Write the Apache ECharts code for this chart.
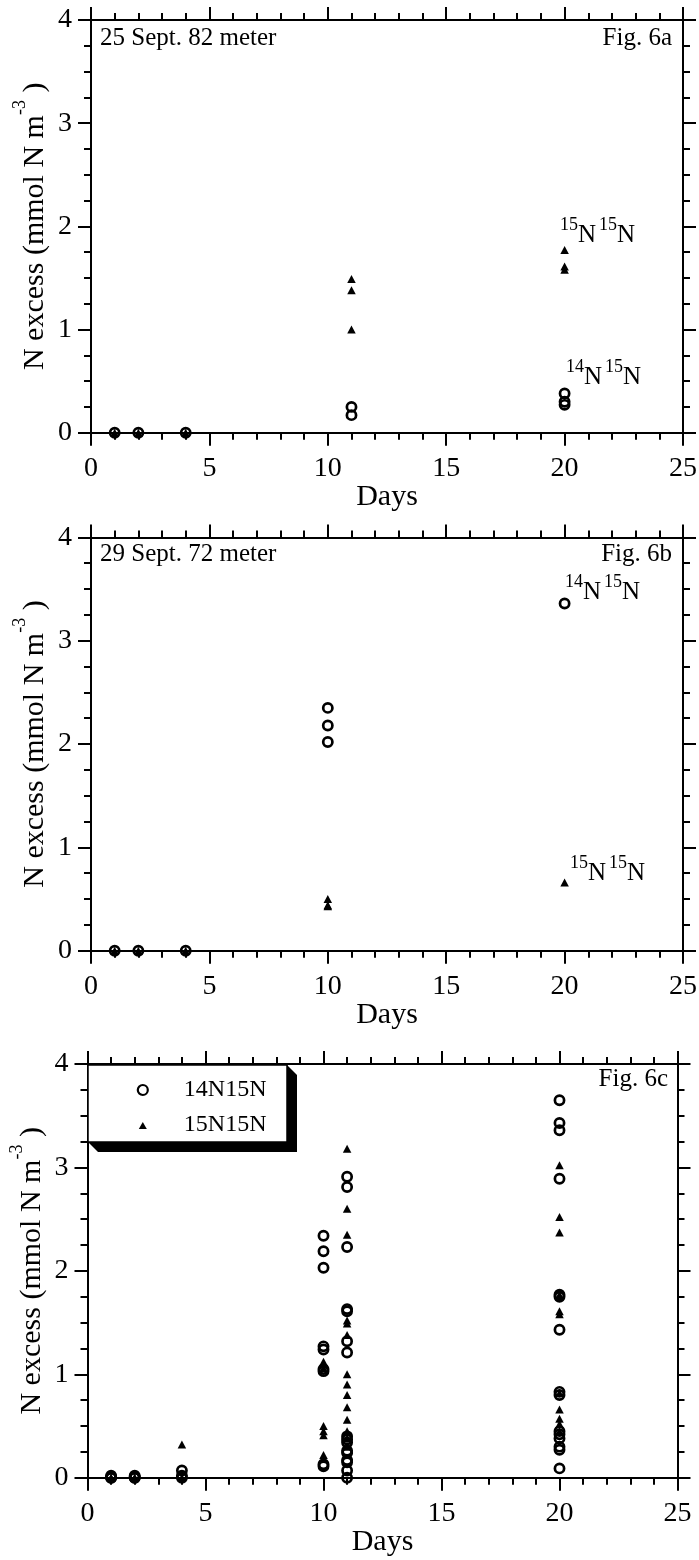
<!DOCTYPE html>
<html><head><meta charset="utf-8">
<script src="https://cdn.jsdelivr.net/npm/echarts@6/dist/echarts.min.js"></script>
<style>html,body{margin:0;padding:0;background:#fff}#c{width:699px;height:1560px}</style>
</head><body><div id="c"></div>
<script>
// ---- Data ----
// Panel a: 25 Sept. 82 meter
const aDays14 = [1, 2, 4, 11, 11, 20, 20, 20];
const aVal14  = [0, 0, 0, 0.25, 0.17, 0.38, 0.30, 0.27];
const aDays15 = [1, 2, 4, 11, 11, 11, 20, 20, 20];
const aVal15  = [0, 0, 0, 1.49, 1.38, 1.00, 1.77, 1.61, 1.58];
// Panel b: 29 Sept. 72 meter
const bDays14 = [1, 2, 4, 10, 10, 10, 20];
const bVal14  = [0, 0, 0, 2.35, 2.18, 2.02, 3.36];
const bDays15 = [1, 2, 4, 10, 10, 10, 20];
const bVal15  = [0, 0, 0, 0.50, 0.44, 0.43, 0.66];
// Panel c: all experiments
const cDays14 = [1, 1, 1, 1, 2, 2, 2, 2, 4, 4, 4,
  10, 10, 10, 10, 10, 10, 10, 10, 10,
  11, 11, 11, 11, 11, 11, 11, 11, 11, 11, 11, 11, 11, 11, 11, 11,
  20, 20, 20, 20, 20, 20, 20, 20, 20, 20, 20, 20, 20, 20, 20];
const cVal14  = [0, 0.01, 0, 0.02, 0, 0.01, 0, 0.02, 0.07, 0.02, 0,
  2.34, 2.19, 2.03, 1.27, 1.24, 1.05, 1.03, 0.13, 0.11,
  2.91, 2.81, 2.23, 1.63, 1.61, 1.32, 1.21, 0.40, 0.37, 0.34, 0.26, 0.24, 0.17, 0.15, 0.07, 0.0,
  3.65, 3.43, 3.36, 2.89, 1.77, 1.75, 1.43, 0.83, 0.80, 0.45, 0.42, 0.38, 0.30, 0.27, 0.09];
const cDays15 = [1, 1, 2, 2, 4, 4,
  10, 10, 10, 10, 10, 10, 10,
  11, 11, 11, 11, 11, 11, 11, 11, 11, 11, 11, 11, 11, 11,
  20, 20, 20, 20, 20, 20, 20, 20, 20, 20, 20];
const cVal15  = [0, 0, 0, 0, 0.32, 0,
  1.12, 1.06, 0.50, 0.45, 0.41, 0.22, 0.18,
  3.18, 2.60, 2.35, 1.52, 1.49, 1.38, 1.00, 0.90, 0.80, 0.68, 0.56, 0.45, 0.38, 0.30,
  3.02, 2.52, 2.37, 1.77, 1.61, 1.58, 0.82, 0.66, 0.57, 0.52, 0.45];
const seriesNames = ['14N15N', '15N15N'];
const xTicks = [0, 5, 10, 15, 20, 25];
const yTicks = [0, 1, 2, 3, 4];

// ---- Styling ----
const FONT = '"Liberation Serif", "Times New Roman", serif';
const pair = (d, v) => d.map((x, i) => [x, v[i]]);
const grids = [
  {left: 91, top: 20, width: 592, height: 412.7},
  {left: 91, top: 537.4, width: 592, height: 413.3},
  {left: 87.5, top: 1064, width: 590, height: 413.7}
];
const black = '#000';
const lineSt = {color: black, width: 2};
function xAx(gi, pos) {
  const bottom = pos === 'bottom';
  return {
    gridIndex: gi, type: 'value', position: pos,
    min: xTicks[0], max: xTicks[xTicks.length - 1], interval: xTicks[1] - xTicks[0],
    axisLine: {show: true, onZero: false, lineStyle: lineSt},
    axisTick: {show: true, inside: false, length: 13, lineStyle: lineSt},
    minorTick: {show: true, splitNumber: 5, length: 7, lineStyle: lineSt},
    splitLine: {show: false}, minorSplitLine: {show: false},
    axisLabel: {show: bottom, margin: 22, fontSize: 28, color: black, fontFamily: FONT},
    name: bottom ? 'Days' : '', nameLocation: 'middle', nameGap: 49, nameMoveOverlap: false,
    nameTextStyle: {fontSize: 30, color: black, fontFamily: FONT}
  };
}
function yAx(gi, pos) {
  const left = pos === 'left';
  return {
    gridIndex: gi, type: 'value', position: pos,
    min: yTicks[0], max: yTicks[yTicks.length - 1], interval: yTicks[1] - yTicks[0],
    axisLine: {show: true, onZero: false, lineStyle: lineSt},
    axisTick: {show: true, inside: false, length: 13, lineStyle: lineSt},
    minorTick: {show: true, splitNumber: 4, length: 7, lineStyle: lineSt},
    splitLine: {show: false}, minorSplitLine: {show: false},
    axisLabel: {show: left, margin: 19, fontSize: 28, color: black, fontFamily: FONT},
    name: left ? '{n|N excess (mmol N m}{s|-3}{n| )}' : '',
    nameLocation: 'middle', nameRotate: 90, nameGap: 40.6, nameMoveOverlap: false,
    nameTextStyle: {
      color: black, fontFamily: FONT, fontSize: 30,
      rich: {
        n: {fontSize: 30, lineHeight: 38.7, verticalAlign: 'bottom', fontFamily: FONT, color: black},
        s: {fontSize: 18, lineHeight: 18, verticalAlign: 'top', fontFamily: FONT, color: black}
      }
    }
  };
}
const xAxis = [], yAxis = [];
grids.forEach((g, i) => {
  xAxis.push(xAx(i, 'bottom')); xAxis.push(xAx(i, 'top'));
  yAxis.push(yAx(i, 'left')); yAxis.push(yAx(i, 'right'));
});
const circleStyle = {color: 'rgba(0,0,0,0)', borderColor: black, borderWidth: 2.7, opacity: 1};
const triStyle = {color: black, borderWidth: 0, opacity: 1};
function sc(name, gi, data, isCircle) {
  return {
    type: 'scatter', name, xAxisIndex: gi * 2, yAxisIndex: gi * 2, data,
    symbol: isCircle ? 'circle' : 'triangle',
    symbolSize: isCircle ? 9.2 : [8.5, 8],
    itemStyle: isCircle ? circleStyle : triStyle,
    clip: false, silent: true, emphasis: {disabled: true}, z: isCircle ? 3 : 4
  };
}
const series = [
  sc(seriesNames[0], 0, pair(aDays14, aVal14), true),
  sc(seriesNames[1], 0, pair(aDays15, aVal15), false),
  sc(seriesNames[0], 1, pair(bDays14, bVal14), true),
  sc(seriesNames[1], 1, pair(bDays15, bVal15), false),
  sc(seriesNames[0], 2, pair(cDays14, cVal14), true),
  sc(seriesNames[1], 2, pair(cDays15, cVal15), false)
];
function txt(x, y, text, align, size) {
  return {type: 'text', x, y, silent: true, z: 10,
    style: {text, fill: black, font: size + 'px ' + FONT, align, verticalAlign: 'middle',
      textAlign: align, textVerticalAlign: 'middle'}};
}
function isoLabel(x, top, a, b) {
  return {type: 'text', x, y: top, silent: true, z: 10,
    style: {
      text: '{s|' + a + '}{n|N}{t|' + b + '}{n|N}',
      align: 'left', verticalAlign: 'top', textAlign: 'left', textVerticalAlign: 'top',
      fill: black, font: '25px ' + FONT,
      rich: {
        s: {fontSize: 18, lineHeight: 18, verticalAlign: 'top', fontFamily: FONT, fill: black, color: black},
        t: {fontSize: 18, lineHeight: 18, verticalAlign: 'top', fontFamily: FONT, fill: black, color: black, padding: [0, 0, 0, 3]},
        n: {fontSize: 25, lineHeight: 31.5, verticalAlign: 'bottom', fontFamily: FONT, fill: black, color: black}
      }
    }};
}
// legend frame with its drop shadow (Kaleidagraph style)
const LB = {x0: 88, y0: 1065, x1: 287, y1: 1142, d: 10};
const graphic = [
  {type: 'polygon', z: 1, silent: true,
    shape: {points: [[LB.x1, LB.y0], [LB.x1 + LB.d, LB.y0 + LB.d], [LB.x1 + LB.d, LB.y1 + LB.d],
      [LB.x0 + LB.d, LB.y1 + LB.d], [LB.x0, LB.y1]]},
    style: {fill: black}},
  {type: 'rect', z: 2, silent: true,
    shape: {x: LB.x0, y: LB.y0, width: LB.x1 - LB.x0, height: LB.y1 - LB.y0},
    style: {fill: '#fff', stroke: black, lineWidth: 1.5}},
  txt(100, 38.2, '25 Sept. 82 meter', 'left', 25),
  txt(672, 38.2, 'Fig. 6a', 'right', 25),
  txt(100, 554.8, '29 Sept. 72 meter', 'left', 25),
  txt(672, 554.8, 'Fig. 6b', 'right', 25),
  txt(668, 1079.8, 'Fig. 6c', 'right', 25),
  isoLabel(560, 241.7 - 25.3, '15', '15'),
  isoLabel(566, 383.3 - 25.3, '14', '15'),
  isoLabel(565, 598.3 - 25.3, '14', '15'),
  isoLabel(570, 880 - 25.3, '15', '15')
];
const chart = echarts.init(document.getElementById('c'), null, {renderer: 'canvas'});
chart.setOption({
  animation: false,
  backgroundColor: '#fff',
  grid: grids.map(g => Object.assign({containLabel: false, outerBoundsMode: 'none'}, g)),
  xAxis, yAxis, series, graphic,
  legend: {
    show: true, orient: 'vertical', left: 88, top: 1065, z: 20,
    padding: [13, 11, 9, 48.7], itemGap: 11, itemWidth: 10, itemHeight: 10,
    backgroundColor: 'transparent', borderWidth: 0,
    selectedMode: false, symbolKeepAspect: true,
    textStyle: {fontSize: 24, lineHeight: 22, color: black, fontFamily: FONT, padding: [0, 0, 0, 31]},
    data: [
      {name: seriesNames[0], icon: 'circle', itemStyle: {color: 'rgba(0,0,0,0)', borderColor: black, borderWidth: 2.2, opacity: 1}},
      {name: seriesNames[1], icon: 'path://M0,0 M10,10 M5,2 L9,9 L1,9 Z', itemStyle: {color: black, borderWidth: 0, opacity: 1}}
    ]
  }
});
</script></body></html>
